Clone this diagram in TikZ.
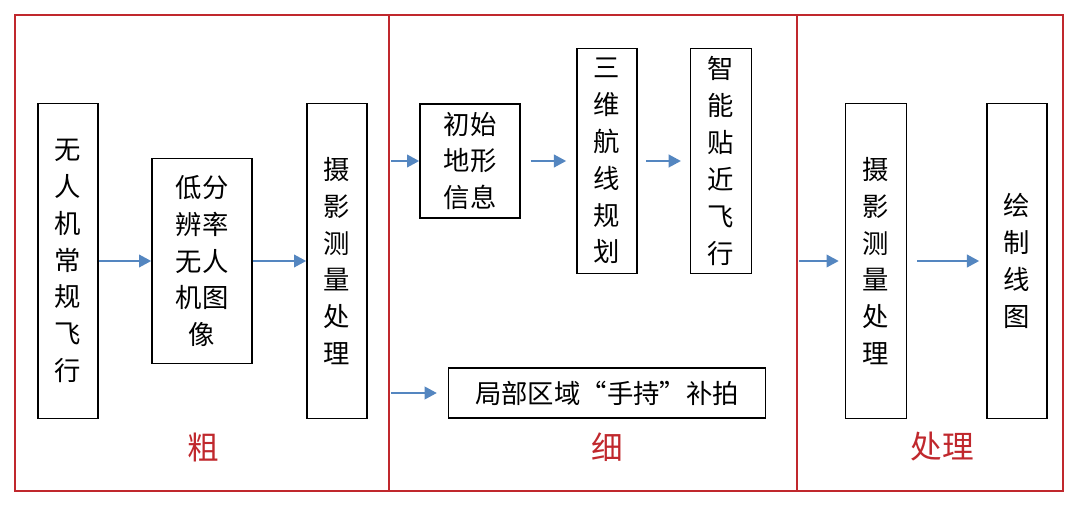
\documentclass[tikz,border=0pt]{standalone}
\usepackage{fontspec}
\newfontfamily\cjk{Noto Sans CJK SC}
\usetikzlibrary{arrows.meta}
\definecolor{framered}{RGB}{192,40,45}
\definecolor{arrowblue}{RGB}{84,134,192}
\tikzset{
  stagebox/.style={rectangle, draw, line width=0.8pt, align=center, inner sep=0pt,
    font=\cjk\fontsize{15}{21}\selectfont},
  flow/.style={draw=arrowblue, line width=1.6pt, -{Triangle[length=7pt,width=7pt]}},
  stagename/.style={text=framered, font=\cjk\fontsize{18}{20}\selectfont}
}
\begin{document}
\begin{tikzpicture}[x=0.02cm, y=-0.02cm]
        \useasboundingbox (0,0) rectangle (1079,520);
        \draw[framered, line width=1.5pt] (15,15) rectangle (1063,491);
        \draw[framered, line width=1.5pt] (389,15) -- (389,491);
        \draw[framered, line width=1.5pt] (797,15) -- (797,491);

        \node[stagebox, minimum width=1.2cm, minimum height=6.3cm] (fly) at (68,261) {无\\人\\机\\常\\规\\飞\\行};
        \node[stagebox, minimum width=2cm, minimum height=4.1cm] (lowres) at (202,261) {低分\\辨率\\无人\\机图\\像};
        \node[stagebox, minimum width=1.2cm, minimum height=6.3cm] (photo) at (337,261) {摄\\影\\测\\量\\处\\理};
        \node[stagebox, minimum width=2cm, minimum height=2.28cm] (terrain) at (470,161) {初始\\地形\\信息};
        \node[stagebox, minimum width=1.2cm, minimum height=4.5cm] (route) at (607,161) {三\\维\\航\\线\\规\\划};
        \node[stagebox, minimum width=1.22cm, minimum height=4.5cm] (close) at (721,161) {智\\能\\贴\\近\\飞\\行};
        \node[stagebox, minimum width=6.34cm, minimum height=1cm] (hand) at (607,393) {局部区域“手持”补拍};
        \node[stagebox, minimum width=1.22cm, minimum height=6.3cm] (photo2) at (876,261) {摄\\影\\测\\量\\处\\理};
        \node[stagebox, minimum width=1.2cm, minimum height=6.3cm] (plot) at (1017,261) {绘\\制\\线\\图};

        \coordinate (split) at (391,161);
        \coordinate (split2) at (391,393);
        \coordinate (merge) at (799,261);

        \draw[flow] (fly.east) -- (lowres.west);
        \draw[flow] (lowres.east) -- (photo.west);
        \draw[flow] (split) -- (terrain.west);
        \draw[flow, shorten <=5.7pt, shorten >=5.7pt] (terrain.east) -- (route.west);
        \draw[flow, shorten <=5pt, shorten >=5pt] (route.east) -- (close.west);
        \draw[flow, shorten >=6.2pt] (split2) -- (hand.west);
        \draw[flow, shorten >=3.4pt] (merge) -- (photo2.west);
        \draw[flow, shorten <=5.7pt, shorten >=4pt] (photo2.east) -- (plot.west);

        \node[stagename] (coarse) at (203,447) {粗};
        \node[stagename] (fine) at (607,447) {细};
        \node[stagename] (proc) at (942,447) {处理};
\end{tikzpicture}
\end{document}
